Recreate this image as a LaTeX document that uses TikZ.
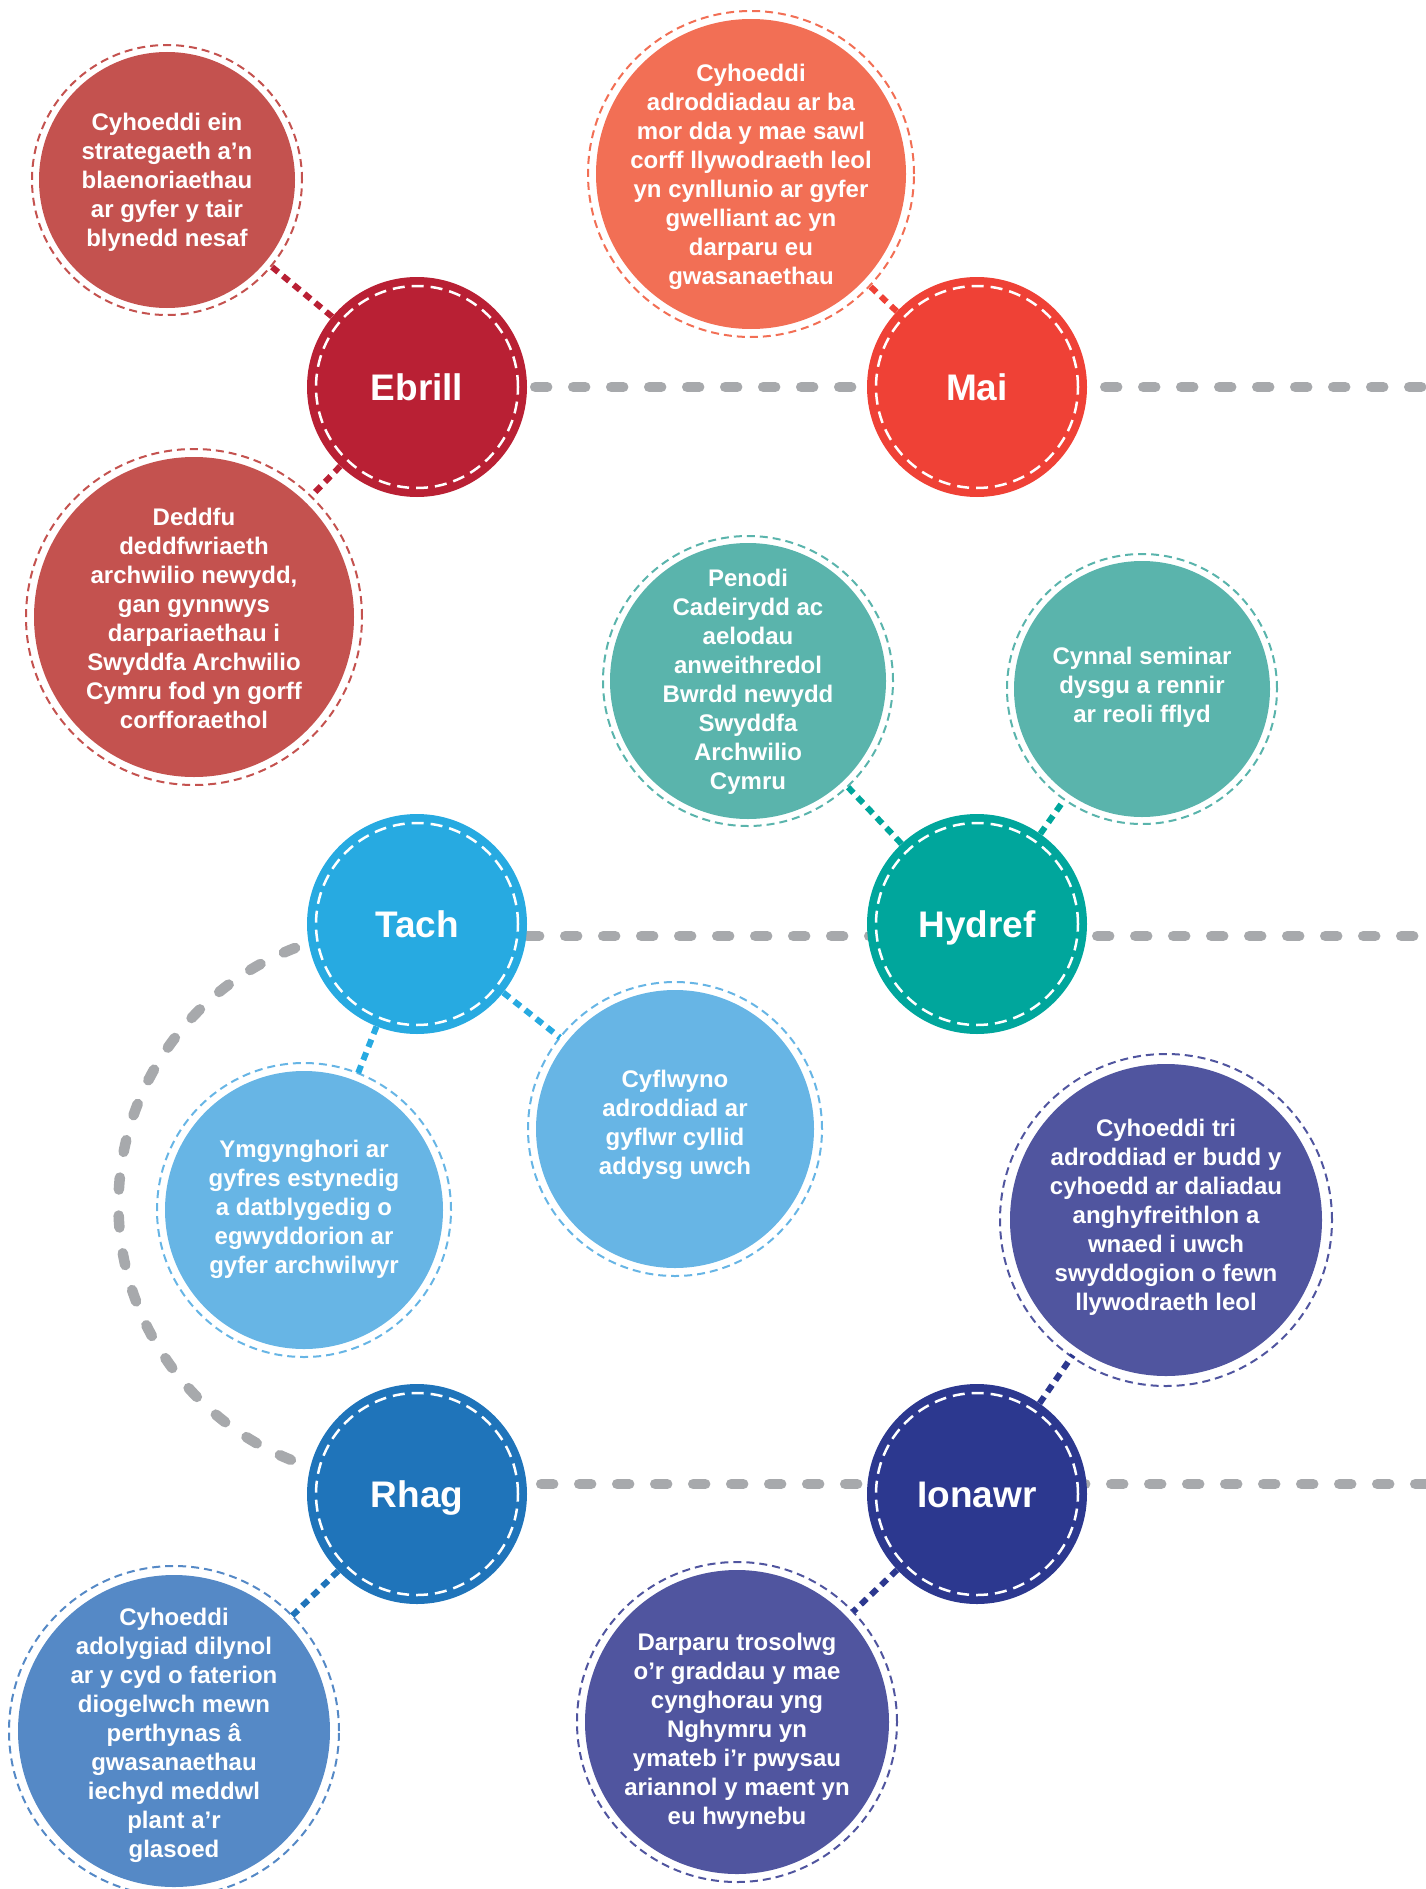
\documentclass[tikz,border=0pt]{standalone}
\usepackage{fontspec}
\setmainfont{Liberation Sans}
\usetikzlibrary{backgrounds}
\definecolor{ebrillcol}{HTML}{B92034}
\definecolor{ebrilllt}{HTML}{C4524F}
\definecolor{maicol}{HTML}{EF4136}
\definecolor{mailt}{HTML}{F26F55}
\definecolor{tachcol}{HTML}{27AAE1}
\definecolor{tachlt}{HTML}{67B5E5}
\definecolor{hydrefcol}{HTML}{00A69C}
\definecolor{hydreflt}{HTML}{5AB4AC}
\definecolor{rhagcol}{HTML}{1F74BA}
\definecolor{rhaglt}{HTML}{5589C6}
\definecolor{ionawrcol}{HTML}{2C388F}
\definecolor{ionawrlt}{HTML}{50559F}
\definecolor{greycol}{HTML}{A7A9AC}
\tikzstyle{month}=[circle,minimum size=220pt,inner sep=0pt,text=white,
                   text height=27pt,text depth=0pt,
                   font=\fontsize{37}{44}\selectfont\bfseries]
\tikzstyle{stitch}=[white,line width=2.5pt,dash pattern=on 12pt off 7pt]
\tikzstyle{timeline}=[greycol,line width=10.5pt,line cap=round,dash pattern=on 12pt off 26pt]
\tikzstyle{eventtext}=[text=white,align=center,inner sep=0pt,yshift=-3.5pt,
                       font=\fontsize{24}{29}\selectfont\bfseries]
\tikzset{
  event/.style={circle,fill=#1,inner sep=0pt,outer sep=8pt},
  ring/.style={#1,line width=2pt,dash pattern=on 8pt off 5pt},
  link/.style={#1,line width=6pt,dash pattern=on 8pt off 6pt}}

\begin{document}
\begin{tikzpicture}[x=1pt,y=-1pt]
  \useasboundingbox (0,0) rectangle (1426,1889);

  % MONTHS
  \node[month,fill=ebrillcol] (ebrill) at (417,387)  {Ebrill};
  \node[month,fill=maicol]    (mai)    at (977,387)  {Mai};
  \node[month,fill=tachcol]   (tach)   at (417,924)  {Tach};
  \node[month,fill=hydrefcol] (hydref) at (977,924)  {Hydref};
  \node[month,fill=rhagcol]   (rhag)   at (417,1494) {Rhag};
  \node[month,fill=ionawrcol] (ionawr) at (977,1494) {Ionawr};
  \foreach \m in {ebrill,mai,tach,hydref,rhag,ionawr}{
    \draw[stitch] (\m) circle (101pt);
  }

  % EVENTS
  \node[event=ebrilllt,minimum size=256pt] (ein) at (167,180) {};
  \node[eventtext] (ein-t) at (167,179)
    {Cyhoeddi ein\\strategaeth a’n\\blaenoriaethau\\ar gyfer y tair\\blynedd nesaf};
  \node[event=ebrilllt,minimum size=320pt] (deddfu) at (194,617) {};
  \node[eventtext] (deddfu-t) at (194,615)
    {Deddfu\\deddfwriaeth\\archwilio newydd,\\gan gynnwys\\darpariaethau i\\Swyddfa Archwilio\\Cymru fod yn gorff\\corfforaethol};
  \node[event=mailt,minimum size=310pt] (adroddiadau) at (751,174) {};
  \node[eventtext] (adroddiadau-t) at (751,173)
    {Cyhoeddi\\adroddiadau ar ba\\mor dda y mae sawl\\corff llywodraeth leol\\yn cynllunio ar gyfer\\gwelliant ac yn\\darparu eu\\gwasanaethau};
  \node[event=hydreflt,minimum size=276pt] (penodi) at (748,681) {};
  \node[eventtext] (penodi-t) at (748,678)
    {Penodi\\Cadeirydd ac\\aelodau\\anweithredol\\Bwrdd newydd\\Swyddfa\\Archwilio\\Cymru};
  \node[event=hydreflt,minimum size=256pt] (seminar) at (1142,689) {};
  \node[eventtext] (seminar-t) at (1142,684)
    {Cynnal seminar\\dysgu a rennir\\ar reoli fflyd};
  \node[event=tachlt,minimum size=278pt] (ymgynghori) at (304,1210) {};
  \node[eventtext] (ymgynghori-t) at (304,1206)
    {Ymgynghori ar\\gyfres estynedig\\a datblygedig o\\egwyddorion ar\\gyfer archwilwyr};
  \node[event=tachlt,minimum size=278pt] (cyflwyno) at (675,1129) {};
  \node[eventtext] (cyflwyno-t) at (675,1121)
    {Cyflwyno\\adroddiad ar\\gyflwr cyllid\\addysg uwch};
  \node[event=ionawrlt,minimum size=312pt] (taliadau) at (1166,1220) {};
  \node[eventtext] (taliadau-t) at (1166,1214)
    {Cyhoeddi tri\\adroddiad er budd y\\cyhoedd ar daliadau\\anghyfreithlon a\\wnaed i uwch\\swyddogion o fewn\\llywodraeth leol};
  \node[event=rhaglt,minimum size=312pt] (adolygiad) at (174,1731) {};
  \node[eventtext] (adolygiad-t) at (174,1732)
    {Cyhoeddi\\adolygiad dilynol\\ar y cyd o faterion\\diogelwch mewn\\perthynas â\\gwasanaethau\\iechyd meddwl\\plant a’r\\glasoed};
  \node[event=ionawrlt,minimum size=304pt] (trosolwg) at (737,1722) {};
  \node[eventtext] (trosolwg-t) at (737,1728)
    {Darparu trosolwg\\o’r graddau y mae\\cynghorau yng\\Nghymru yn\\ymateb i’r pwysau\\ariannol y maent yn\\eu hwynebu};
  \foreach \e/\rad/\c in {ein/135pt/ebrilllt,deddfu/168pt/ebrilllt,
      adroddiadau/163pt/mailt,penodi/145pt/hydreflt,seminar/135pt/hydreflt,
      ymgynghori/147pt/tachlt,cyflwyno/147pt/tachlt,taliadau/166pt/ionawrlt,
      adolygiad/165pt/rhaglt,trosolwg/160pt/ionawrlt}{
    \draw[ring=\c] (\e) circle (\rad);
  }

  % LINKS
  \foreach \a/\b/\c in {ebrill/ein/ebrillcol,ebrill/deddfu/ebrillcol,
      mai/adroddiadau/maicol,hydref/penodi/hydrefcol,hydref/seminar/hydrefcol,
      tach/ymgynghori/tachcol,tach/cyflwyno/tachcol,rhag/adolygiad/rhagcol,
      ionawr/taliadau/ionawrcol,ionawr/trosolwg/ionawrcol}{
    \draw[link=\c] (\a) -- (\b);
  }

  % TIMELINE
  \coordinate (edgeA) at (1440,387);
  \coordinate (edgeB) at (1440,936);
  \coordinate (edgeC) at (1440,1484);
  \coordinate (loopA) at (295,948);
  \begin{scope}[on background layer]
    \draw[timeline] ([xshift=8pt]ebrill.east) -- (edgeA);
    \draw[timeline] ([yshift=-12pt]tach.east) -- (edgeB);
    \draw[timeline] ([xshift=14pt,yshift=10pt]rhag.east) -- (edgeC);
    \draw[timeline] (loopA) arc[start angle=111,end angle=250,radius=275pt];
  \end{scope}
\end{tikzpicture}
\end{document}
